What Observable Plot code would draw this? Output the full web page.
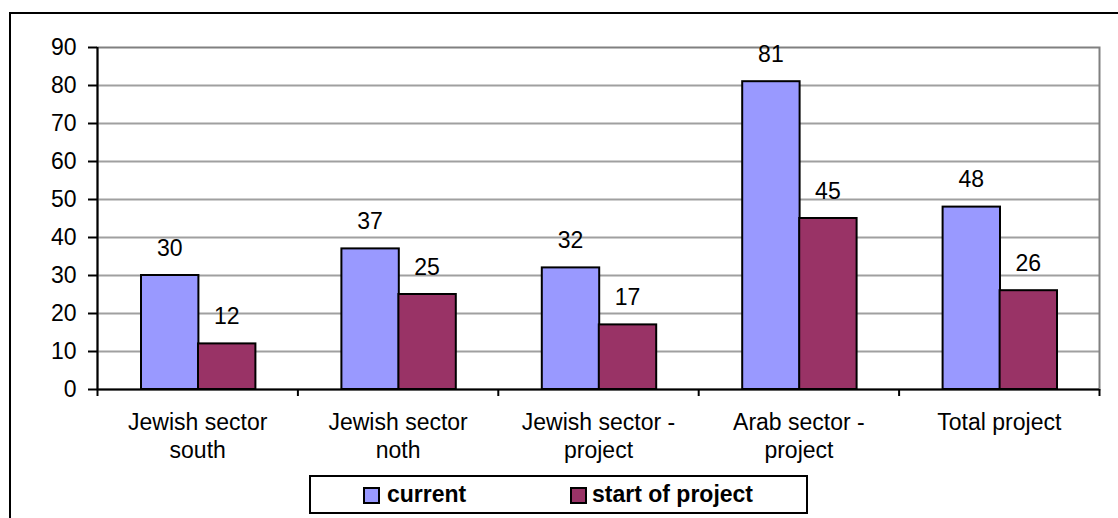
<!DOCTYPE html>
<html>
<head>
<meta charset="utf-8">
<script src="https://cdn.jsdelivr.net/npm/d3@7"></script>
<script src="https://cdn.jsdelivr.net/npm/@observablehq/plot@0.6"></script>
<style>
  html, body { margin: 0; padding: 0; background: #fff; overflow: hidden; }
  #wrap { position: relative; width: 1118px; height: 518px; overflow: hidden; font-family: "Liberation Sans", Arial, sans-serif; }
  #frame { position: absolute; left: 9px; top: 12px; width: 1300px; height: 700px; border: 2px solid #000; box-sizing: border-box; pointer-events: none; z-index: 2; }
  #chart { position: absolute; left: 0; top: 0; }
  #legend { position: absolute; left: 309px; top: 475px; width: 499px; height: 39px; border: 2px solid #000; box-sizing: border-box; background: #fff; z-index: 3; }
  .sw { position: absolute; top: 10px; width: 17px; height: 17px; border: 2px solid #000; box-sizing: border-box; }
  .lt { position: absolute; top: 0; line-height: 35px; font-size: 23px; font-weight: bold; color: #000; }
</style>
</head>
<body>
<div id="wrap">
  <div id="chart"></div>
  <div id="frame"></div>
  <div id="legend"></div>
</div>
<script>
const categories = ["Jewish sector\nsouth", "Jewish sector\nnoth", "Jewish sector -\nproject", "Arab sector -\nproject", "Total project"];
const seriesNames = ["current", "start of project"];
const seriesColors = ["#9999FF", "#993366"];
const currentValues = [30, 37, 32, 81, 48];
const startValues = [12, 25, 17, 45, 26];
const yTicks = [0, 10, 20, 30, 40, 50, 60, 70, 80, 90];

const rowsCurrent = categories.map((c, i) => ({cat: c, i, value: currentValues[i]}));
const rowsStart = categories.map((c, i) => ({cat: c, i, value: startValues[i]}));
const catRows = categories.map((c, i) => ({cat: c, i}));
const font = '"Liberation Sans", Arial, sans-serif';

const chart = Plot.plot({
  width: 1118,
  height: 470,
  marginLeft: 97,
  marginRight: 19,
  marginTop: 47,
  marginBottom: 81,
  style: {background: "transparent", fontFamily: font, color: "#000", overflow: "visible"},
  x: {type: "linear", domain: [0, categories.length], axis: null},
  y: {domain: [0, 90], axis: null},
  marks: [
    Plot.ruleY(yTicks.filter(t => t > 0 && t < 90), {stroke: "#a0a0a0", strokeWidth: 2}),
    Plot.frame({stroke: "#808080", strokeWidth: 2}),
    Plot.rectY(rowsCurrent, {x1: "i", x2: d => d.i + 1, y1: 0, y2: "value", fill: seriesColors[0], stroke: "#000", strokeWidth: 2, insetLeft: 44, insetRight: 99}),
    Plot.rectY(rowsStart, {x1: "i", x2: d => d.i + 1, y1: 0, y2: "value", fill: seriesColors[1], stroke: "#000", strokeWidth: 2, insetLeft: 101, insetRight: 42}),
    Plot.text(rowsCurrent, {x: d => d.i + 0.5, y: "value", text: d => String(d.value), dx: -28, dy: -27, lineAnchor: "middle", fontSize: 23, fill: "#000"}),
    Plot.text(rowsStart, {x: d => d.i + 0.5, y: "value", text: d => String(d.value), dx: 29, dy: -27, lineAnchor: "middle", fontSize: 23, fill: "#000"}),
    Plot.ruleX([0], {stroke: "#000", strokeWidth: 2}),
    Plot.ruleY([0], {stroke: "#000", strokeWidth: 2}),
    Plot.axisY({ticks: yTicks, tickSize: 9, tickFormat: () => "", stroke: "#000", strokeWidth: 2, label: null}),
    Plot.text(yTicks, {x: 0, y: d => d, text: d => String(d), textAnchor: "end", dx: -21, lineAnchor: "middle", fontSize: 23, fill: "#000"}),
    Plot.axisX({ticks: d3.range(0, categories.length + 1), tickFormat: () => "", tickSize: 7, stroke: "#000", strokeWidth: 2, label: null}),
    Plot.text(catRows, {x: d => d.i + 0.5, y: 0, text: "cat", lineAnchor: "top", dy: 21, fontSize: 23, lineHeight: 1.2, fill: "#000"})
  ]
});
document.getElementById("chart").appendChild(chart);

const legend = document.getElementById("legend");
const swLeft = [52, 259];
const txtLeft = [76, 281];
seriesNames.forEach((name, k) => {
  const sw = document.createElement("div");
  sw.className = "sw";
  sw.style.left = swLeft[k] + "px";
  sw.style.background = seriesColors[k];
  legend.appendChild(sw);
  const t = document.createElement("div");
  t.className = "lt";
  t.style.left = txtLeft[k] + "px";
  t.textContent = name;
  legend.appendChild(t);
});
</script>
</body>
</html>
